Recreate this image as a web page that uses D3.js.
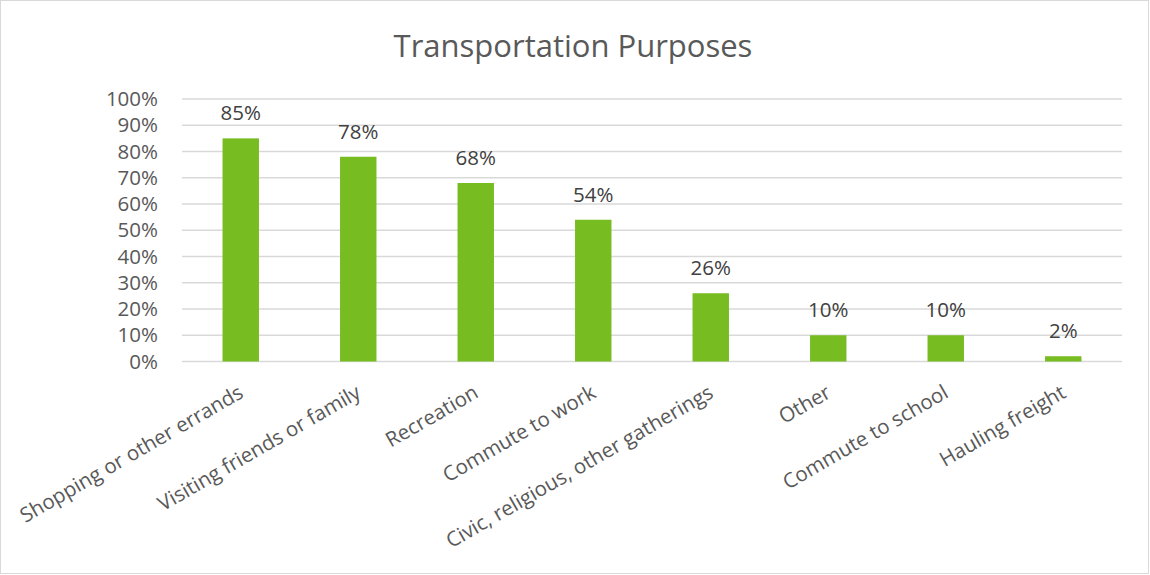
<!DOCTYPE html>
<html lang="en">
<head>
  <meta charset="UTF-8">
  <title>Transportation Purposes</title>
  <script src="https://d3js.org/d3.v7.min.js"></script>
  <style>
    body { margin: 0; background: #fff; font-family: "Open Sans", sans-serif; }
    svg text { font-family: "Open Sans", sans-serif; }
  </style>
</head>
<body>
  <div id="chart"></div>
  <script>
    // Chart data
    const categories = [
      "Shopping or other errands",
      "Visiting friends or family",
      "Recreation",
      "Commute to work",
      "Civic, religious, other gatherings",
      "Other",
      "Commute to school",
      "Hauling freight"
    ];
    const values = [0.85, 0.78, 0.68, 0.54, 0.26, 0.10, 0.10, 0.02];
    const yTicks = [0, 0.1, 0.2, 0.3, 0.4, 0.5, 0.6, 0.7, 0.8, 0.9, 1.0];

    const width = 1150, height = 575;
    const margin = { top: 99, right: 28, bottom: 213.5, left: 182 };

    const svg = d3.select("#chart").append("svg")
      .attr("width", width)
      .attr("height", height);

    // outer border
    svg.append("rect")
      .attr("x", 0.5).attr("y", 0.5)
      .attr("width", width - 2).attr("height", height - 2)
      .attr("fill", "#fff")
      .attr("stroke", "#d9d9d9");

    svg.append("text")
      .attr("x", 573)
      .attr("y", 57)
      .attr("text-anchor", "middle")
      .attr("font-size", 31)
      .attr("fill", "#595959")
      .text("Transportation Purposes");

    const x = d3.scaleBand()
      .domain(categories)
      .range([margin.left, width - margin.right])
      .paddingInner(0.69)
      .paddingOuter(0.345);

    const y = d3.scaleLinear()
      .domain([0, 1])
      .range([height - margin.bottom, margin.top]);

    // gridlines
    svg.append("g")
      .selectAll("line")
      .data(yTicks)
      .join("line")
      .attr("x1", margin.left)
      .attr("x2", width - margin.right)
      .attr("y1", d => y(d))
      .attr("y2", d => y(d))
      .attr("stroke", "#d9d9d9")
      .attr("stroke-width", 1.5);

    // y axis labels
    const yAxis = svg.append("g")
      .attr("transform", `translate(${margin.left},0)`)
      .call(d3.axisLeft(y).tickValues(yTicks).tickFormat(d3.format(".0%")).tickSize(0).tickPadding(24));
    yAxis.select(".domain").remove();
    yAxis.selectAll("text")
      .attr("font-size", 20.5)
      .attr("fill", "#595959")
      .attr("font-family", "Open Sans, sans-serif");

    // bars
    svg.append("g")
      .selectAll("rect")
      .data(values)
      .join("rect")
      .attr("x", (d, i) => x(categories[i]))
      .attr("width", x.bandwidth())
      .attr("y", d => y(d))
      .attr("height", d => y(0) - y(d))
      .attr("fill", "#77bc21");

    // data labels
    svg.append("g")
      .selectAll("text")
      .data(values)
      .join("text")
      .attr("x", (d, i) => x(categories[i]) + x.bandwidth() / 2)
      .attr("y", d => y(d) - 18)
      .attr("text-anchor", "middle")
      .attr("font-size", 20.5)
      .attr("fill", "#404040")
      .text(d => d3.format(".0%")(d));

    // x labels, rotated
    svg.append("g")
      .selectAll("text")
      .data(categories)
      .join("text")
      .attr("transform", d => `translate(${x(d) + x.bandwidth() / 2 + 4},${y(0) + 35}) rotate(-30)`)
      .attr("text-anchor", "end")
      .attr("font-size", 20.5)
      .attr("fill", "#595959")
      .text(d => d);
  </script>
</body>
</html>
